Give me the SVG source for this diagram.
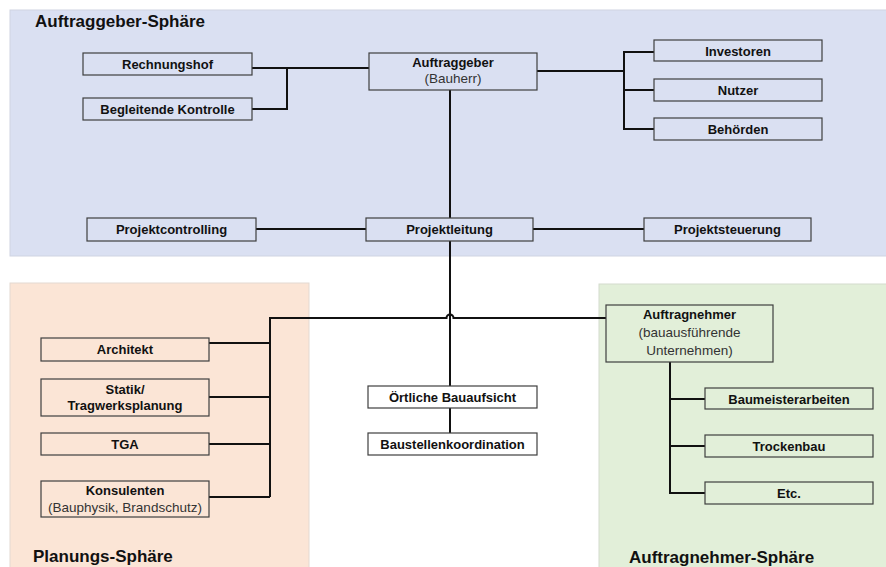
<svg xmlns="http://www.w3.org/2000/svg" width="886" height="567" viewBox="0 0 886 567">
  <style>
    .box { stroke: #3f3f3f; stroke-width: 1.2; }
    .onblue { fill: #dae0f2; }
    .onpeach { fill: #fbe5d6; }
    .ongreen { fill: #e2efd9; }
    .onwhite { fill: #ffffff; }
    .lbl { font-family: "Liberation Sans", Arial, sans-serif; font-size: 13px; font-weight: bold; fill: #111; text-anchor: middle; }
    .sub { font-family: "Liberation Sans", Arial, sans-serif; font-size: 13.5px; fill: #333; text-anchor: middle; }
    .title { font-family: "Liberation Sans", Arial, sans-serif; font-size: 17px; font-weight: bold; fill: #111; }
    .wire { fill: none; stroke: #111; stroke-width: 2; }
  </style>

  <rect width="886" height="567" fill="#ffffff"/>

  <!-- sphere backgrounds -->
  <g id="sphere-auftraggeber">
    <rect x="10" y="10" width="880" height="246" fill="#dae0f2" stroke="#cfd4e2" stroke-width="1"/>
    <text class="title" x="35" y="27">Auftraggeber-Sphäre</text>
  </g>
  <g id="sphere-planung">
    <rect x="10" y="283" width="299" height="290" fill="#fbe5d6" stroke="#e3d9d2" stroke-width="1"/>
    <text class="title" x="33" y="562">Planungs-Sphäre</text>
  </g>
  <g id="sphere-auftragnehmer">
    <rect x="599" y="284" width="292" height="290" fill="#e2efd9" stroke="#d3dccd" stroke-width="1"/>
    <text class="title" x="629" y="563">Auftragnehmer-Sphäre</text>
  </g>

  <!-- connectors -->
  <g id="connectors">
    <!-- Auftraggeber to controls -->
    <path class="wire" d="M252 68 H369 M287 68 V109 H252"/>
    <!-- Auftraggeber to stakeholders -->
    <path class="wire" d="M537 71 H624 M654 52 H624 V129 H654 M624 90 H654"/>
    <!-- main spine -->
    <path class="wire" d="M450 90 V218 M450 241 V386 M450 408 V433"/>
    <!-- Projektleitung row -->
    <path class="wire" d="M256 229 H366 M533 229 H644"/>
    <!-- distribution line with hop over spine -->
    <path class="wire" d="M270 497 V318 H446.5 A3.5 3.5 0 0 1 453.5 318 H606"/>
    <!-- planning branches -->
    <path class="wire" d="M209 343 H270 M209 397 H270 M209 444 H270 M209 497 H270"/>
    <!-- contractor branches -->
    <path class="wire" d="M670 362 V493 H705 M670 399 H705 M670 446 H705"/>
  </g>

  <!-- client sphere nodes -->
  <g id="rechnungshof">
    <rect class="box onblue" x="83" y="53" width="169" height="22"/>
    <text class="lbl" x="167.5" y="69">Rechnungshof</text>
  </g>
  <g id="begleitende-kontrolle">
    <rect class="box onblue" x="83" y="98" width="169" height="22"/>
    <text class="lbl" x="167.5" y="114">Begleitende Kontrolle</text>
  </g>
  <g id="auftraggeber">
    <rect class="box onblue" x="369" y="53" width="168" height="37"/>
    <text class="lbl" x="453" y="67">Auftraggeber</text>
    <text class="sub" x="453" y="83">(Bauherr)</text>
  </g>
  <g id="investoren">
    <rect class="box onblue" x="654" y="40" width="168" height="21"/>
    <text class="lbl" x="738" y="55.5">Investoren</text>
  </g>
  <g id="nutzer">
    <rect class="box onblue" x="654" y="79" width="168" height="22"/>
    <text class="lbl" x="738" y="94.5">Nutzer</text>
  </g>
  <g id="behoerden">
    <rect class="box onblue" x="654" y="118" width="168" height="22"/>
    <text class="lbl" x="738" y="133.5">Behörden</text>
  </g>
  <g id="projektcontrolling">
    <rect class="box onblue" x="87" y="218" width="169" height="23"/>
    <text class="lbl" x="171.5" y="234">Projektcontrolling</text>
  </g>
  <g id="projektleitung">
    <rect class="box onblue" x="366" y="218" width="167" height="23"/>
    <text class="lbl" x="449.5" y="234">Projektleitung</text>
  </g>
  <g id="projektsteuerung">
    <rect class="box onblue" x="644" y="218" width="167" height="23"/>
    <text class="lbl" x="727.5" y="234">Projektsteuerung</text>
  </g>

  <!-- planning sphere nodes -->
  <g id="architekt">
    <rect class="box onpeach" x="41" y="338" width="168" height="23"/>
    <text class="lbl" x="125" y="354">Architekt</text>
  </g>
  <g id="statik">
    <rect class="box onpeach" x="41" y="379" width="168" height="37"/>
    <text class="lbl" x="125" y="394">Statik/</text>
    <text class="lbl" x="125" y="410">Tragwerksplanung</text>
  </g>
  <g id="tga">
    <rect class="box onpeach" x="41" y="433" width="168" height="22"/>
    <text class="lbl" x="125" y="449">TGA</text>
  </g>
  <g id="konsulenten">
    <rect class="box onpeach" x="41" y="481" width="168" height="36"/>
    <text class="lbl" x="125" y="495">Konsulenten</text>
    <text class="sub" x="125" y="512">(Bauphysik, Brandschutz)</text>
  </g>

  <!-- site nodes -->
  <g id="oertliche-bauaufsicht">
    <rect class="box onwhite" x="368" y="386" width="169" height="22"/>
    <text class="lbl" x="452.5" y="402">Örtliche Bauaufsicht</text>
  </g>
  <g id="baustellenkoordination">
    <rect class="box onwhite" x="368" y="433" width="169" height="22"/>
    <text class="lbl" x="452.5" y="449">Baustellenkoordination</text>
  </g>

  <!-- contractor sphere nodes -->
  <g id="auftragnehmer">
    <rect class="box ongreen" x="606" y="305" width="167" height="57"/>
    <text class="lbl" x="689.5" y="319">Auftragnehmer</text>
    <text class="sub" x="689.5" y="337">(bauausführende</text>
    <text class="sub" x="689.5" y="355">Unternehmen)</text>
  </g>
  <g id="baumeisterarbeiten">
    <rect class="box ongreen" x="705" y="388" width="168" height="21"/>
    <text class="lbl" x="789" y="403.5">Baumeisterarbeiten</text>
  </g>
  <g id="trockenbau">
    <rect class="box ongreen" x="705" y="435" width="168" height="22"/>
    <text class="lbl" x="789" y="450.5">Trockenbau</text>
  </g>
  <g id="etc">
    <rect class="box ongreen" x="705" y="482" width="168" height="22"/>
    <text class="lbl" x="789" y="497.5">Etc.</text>
  </g>
</svg>
